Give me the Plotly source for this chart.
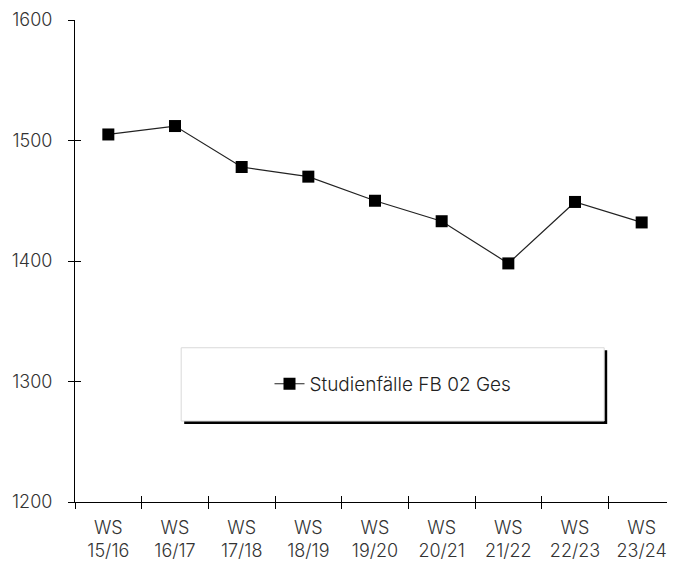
import plotly.graph_objects as go

semesters = ["WS<br>15/16", "WS<br>16/17", "WS<br>17/18", "WS<br>18/19", "WS<br>19/20",
             "WS<br>20/21", "WS<br>21/22", "WS<br>22/23", "WS<br>23/24"]
studienfaelle = [1505, 1512, 1478, 1470, 1450, 1433, 1398, 1449, 1432]
y_ticks = [1200, 1300, 1400, 1500, 1600]
series_name = "Studienfälle FB 02 Ges"

FONT = "Inter"
fig = go.Figure()
fig.add_trace(go.Scatter(
    x=semesters, y=studienfaelle, mode="lines+markers", name=series_name,
    line=dict(color="#222222", width=1.2),
    marker=dict(symbol="square", size=12, color="black"),
))
fig.add_trace(go.Scatter(x=semesters, y=studienfaelle, xaxis="x2", yaxis="y2",
                         mode="markers", marker=dict(opacity=0), showlegend=False,
                         hoverinfo="skip"))

axis_font = dict(family=FONT, size=18, color="#333333", weight=300)
fig.update_layout(
    width=667, height=554,
    margin=dict(l=67, r=0, t=12, b=60, autoexpand=False),
    paper_bgcolor="white", plot_bgcolor="white",
    font=axis_font,
    xaxis=dict(type="category", range=[-0.5, 8.5], tickson="boundaries",
               ticks="outside", ticklen=6, tickcolor="black", tickwidth=1,
               showline=True, linecolor="black", linewidth=1, showgrid=False,
               tickfont=axis_font, ticklabelstandoff=9, automargin=False),
    yaxis=dict(range=[1200, 1600], tickvals=y_ticks, ticks="outside", ticklen=6,
               tickcolor="black", tickwidth=1, showline=True, linecolor="black",
               linewidth=1, showgrid=False, zeroline=False, tickfont=axis_font,
               ticklabelstandoff=12, automargin=False),
    xaxis2=dict(type="category", range=[-0.5, 8.5], overlaying="x", side="bottom",
                tickson="boundaries", ticks="inside", ticklen=6, tickcolor="black",
                showticklabels=False, showgrid=False, showline=False, automargin=False),
    yaxis2=dict(range=[1200, 1600], overlaying="y", side="left", tickvals=y_ticks,
                ticks="inside", ticklen=6, tickcolor="black", showticklabels=False,
                showgrid=False, zeroline=False, showline=False, automargin=False),
    showlegend=True,
    legend=dict(x=0.53, y=0.245, xanchor="center", yanchor="middle",
                bgcolor="rgba(0,0,0,0)", font=dict(family=FONT, size=19, color="#222222", weight=300),
                itemwidth=30),
    shapes=[
        dict(type="rect", xref="paper", yref="paper", x0=0.182, x1=0.887, y0=0.162, y1=0.315,
             fillcolor="black", line=dict(width=0), layer="above"),
        dict(type="rect", xref="paper", yref="paper", x0=0.177, x1=0.882, y0=0.168, y1=0.320,
             fillcolor="white", line=dict(color="#d9d9d9", width=1), layer="above"),
    ],
)
fig.write_html("out.html")
